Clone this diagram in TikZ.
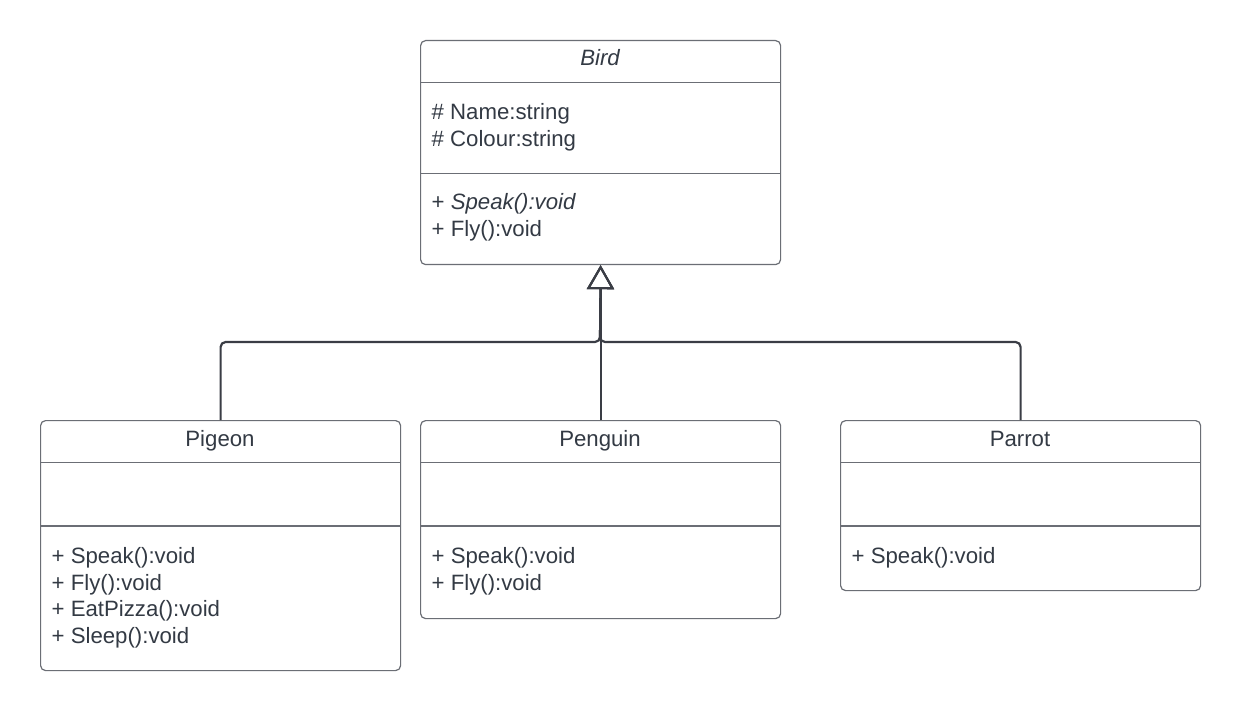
\documentclass[tikz,border=0pt]{standalone}
\usepackage{fontspec}
\setmainfont{Liberation Sans}
\usetikzlibrary{arrows.meta}
\definecolor{txt}{HTML}{333A44}
\definecolor{bord}{HTML}{6B6E75}
\definecolor{conncol}{HTML}{3A3D45}
\begin{document}
\begin{tikzpicture}[x=1pt,y=-1pt,
  umlbox/.style={draw=bord, line width=1.2pt, rounded corners=5pt, rectangle, inner sep=0, anchor=north west, fill=white},
  divline/.style={draw=bord, line width=1.2pt},
  lbl/.style={anchor=base west, inner sep=0, text=txt, font=\fontsize{22.2}{26}\selectfont},
  ttl/.style={anchor=base, inner sep=0, text=txt, font=\fontsize{22.2}{26}\selectfont},
  conn/.style={draw=conncol, line width=2.2pt, rounded corners=5pt, -{Triangle[open, length=24pt, width=27pt, line width=2pt]}}]
\useasboundingbox (0,0) rectangle (1240,711);
\fill[white] (0,0) rectangle (1240,711);

% boxes
\node[umlbox, minimum width=360pt, minimum height=224pt] (bird) at (420,40) {};
\node[umlbox, minimum width=360pt, minimum height=250pt] (pigeon) at (40,420) {};
\node[umlbox, minimum width=360pt, minimum height=198pt] (penguin) at (420,420) {};
\node[umlbox, minimum width=360pt, minimum height=170pt] (parrot) at (840,420) {};

% dividers
\draw[divline] (420,82.3) -- (780,82.3);
\draw[divline] (420,173.3) -- (780,173.3);
\draw[divline] (40,462.3) -- (400,462.3);
\draw[divline] (40,526) -- (400,526);
\draw[divline] (420,462.3) -- (780,462.3);
\draw[divline] (420,526) -- (780,526);
\draw[divline] (840,462.3) -- (1200,462.3);
\draw[divline] (840,526) -- (1200,526);

% Bird text
\node[ttl] (birdt) at (600,65.7) {\itshape Bird};
\node[lbl] (b1) at (431.5,120) {\# Name:string};
\node[lbl] (b2) at (431.5,146.7) {\# Colour:string};
\node[lbl] (b3) at (431.5,210) {+ \textit{Speak():void}};
\node[lbl] (b4) at (431.5,236.7) {+ Fly():void};

% Pigeon text
\node[ttl] (pgt) at (220,446.7) {Pigeon};
\node[lbl] (p1) at (51.5,563.3) {+ Speak():void};
\node[lbl] (p2) at (51.5,590) {+ Fly():void};
\node[lbl] (p3) at (51.5,616.7) {+ EatPizza():void};
\node[lbl] (p4) at (51.5,643.3) {+ Sleep():void};

% Penguin text
\node[ttl] (pnt) at (600,446.7) {Penguin};
\node[lbl] (n1) at (431.5,563.3) {+ Speak():void};
\node[lbl] (n2) at (431.5,590) {+ Fly():void};

% Parrot text
\node[ttl] (prt) at (1020,446.7) {Parrot};
\node[lbl] (r1) at (851.5,563.3) {+ Speak():void};

% connectors
\coordinate (j) at (600,342);
\draw[conn] (pigeon.north) |- (j) -- (bird.south);
\draw[conn] (parrot.north) |- (j) -- (bird.south);
\draw[conn] (penguin.north) -- (bird.south);
\end{tikzpicture}
\end{document}
